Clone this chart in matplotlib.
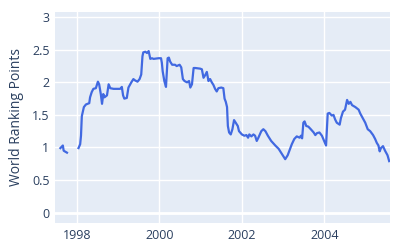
import matplotlib
matplotlib.use("Agg")
import matplotlib.pyplot as plt
import numpy as np

plt.rcParams['font.family'] = ['Open Sans', 'DejaVu Sans']

# decimal year, ranking points (gap between the two runs)
years_a = [1997.60, 1997.66, 1997.68, 1997.76]
points_a = [0.99, 1.03, 0.95, 0.92]

years_b = [1998.04, 1998.08, 1998.10, 1998.12, 1998.17, 1998.22, 1998.30, 1998.32,
           1998.36, 1998.40, 1998.46, 1998.51, 1998.54, 1998.58, 1998.61, 1998.64,
           1998.67, 1998.73, 1998.77, 1998.81, 1998.89, 1999.05, 1999.09, 1999.12,
           1999.15, 1999.21, 1999.25, 1999.32, 1999.37, 1999.41, 1999.47, 1999.52,
           1999.56, 1999.59, 1999.61, 1999.66, 1999.70, 1999.74, 1999.78, 1999.82,
           1999.86, 1999.98, 2000.04, 2000.06, 2000.08, 2000.12, 2000.16, 2000.20,
           2000.23, 2000.26, 2000.31, 2000.38, 2000.42, 2000.49, 2000.53, 2000.57,
           2000.61, 2000.67, 2000.72, 2000.75, 2000.79, 2000.83, 2000.87, 2000.99,
           2001.03, 2001.07, 2001.11, 2001.15, 2001.19, 2001.23, 2001.27, 2001.31,
           2001.35, 2001.39, 2001.43, 2001.50, 2001.55, 2001.58, 2001.61, 2001.64,
           2001.66, 2001.69, 2001.73, 2001.77, 2001.81, 2001.85, 2001.90, 2001.93,
           2002.00, 2002.06, 2002.11, 2002.15, 2002.18, 2002.23, 2002.28, 2002.32,
           2002.36, 2002.40, 2002.47, 2002.52, 2002.57, 2002.63, 2002.71, 2002.81,
           2002.89, 2002.97, 2003.05, 2003.11, 2003.17, 2003.21, 2003.27, 2003.33,
           2003.40, 2003.43, 2003.46, 2003.49, 2003.52, 2003.56, 2003.61, 2003.67,
           2003.74, 2003.78, 2003.82, 2003.88, 2003.94, 2004.00, 2004.04, 2004.08,
           2004.12, 2004.18, 2004.22, 2004.26, 2004.30, 2004.37, 2004.40, 2004.45,
           2004.50, 2004.55, 2004.59, 2004.63, 2004.67, 2004.75, 2004.83, 2004.87,
           2004.93, 2004.99, 2005.05, 2005.11, 2005.18, 2005.23, 2005.27, 2005.31,
           2005.34, 2005.37, 2005.42, 2005.47, 2005.53, 2005.57]
points_b = [0.99, 1.05, 1.18, 1.48, 1.62, 1.66, 1.68, 1.77,
            1.85, 1.90, 1.91, 2.01, 1.97, 1.82, 1.67, 1.82,
            1.77, 1.80, 1.97, 1.91, 1.90, 1.90, 1.93, 1.80,
            1.75, 1.76, 1.92, 2.00, 2.05, 2.03, 2.01, 2.05,
            2.12, 2.40, 2.46, 2.47, 2.45, 2.48, 2.36, 2.37,
            2.36, 2.37, 2.37, 2.30, 2.17, 2.02, 1.93, 2.37,
            2.38, 2.32, 2.27, 2.27, 2.25, 2.27, 2.23, 2.05,
            2.02, 2.00, 2.02, 1.92, 1.97, 2.22, 2.22, 2.21,
            2.20, 2.07, 2.11, 2.16, 2.02, 2.05, 2.00, 1.96,
            1.90, 1.86, 1.91, 1.92, 1.91, 1.75, 1.70, 1.62,
            1.33, 1.23, 1.20, 1.28, 1.42, 1.38, 1.33, 1.25,
            1.20, 1.18, 1.19, 1.15, 1.20, 1.17, 1.20, 1.18,
            1.10, 1.15, 1.25, 1.28, 1.25, 1.18, 1.10, 1.03,
            0.98, 0.90, 0.82, 0.88, 0.98, 1.05, 1.13, 1.17,
            1.15, 1.18, 1.14, 1.38, 1.40, 1.33, 1.32, 1.28,
            1.23, 1.19, 1.22, 1.23, 1.18, 1.09, 1.03, 1.52,
            1.53, 1.49, 1.50, 1.43, 1.38, 1.35, 1.45, 1.55,
            1.58, 1.73, 1.67, 1.70, 1.65, 1.62, 1.58, 1.52,
            1.45, 1.38, 1.28, 1.25, 1.19, 1.13, 1.07, 1.03,
            0.94, 0.99, 1.02, 0.95, 0.88, 0.79]

x_ticks = [1998, 2000, 2002, 2004]
y_ticks = [0, 0.5, 1, 1.5, 2, 2.5, 3]
y_tick_labels = ['0', '0.5', '1', '1.5', '2', '2.5', '3']

text_col = '#2a3f5f'
line_col = '#4169e1'

fig = plt.figure(figsize=(4, 2.5), dpi=100)
ax = fig.add_axes([0.1375, 0.108, 0.8375, 0.844])
ax.set_facecolor('#e5ecf6')

ax.plot(years_a, points_a, color=line_col, lw=1.6, zorder=3)
ax.plot(years_b, points_b, color=line_col, lw=1.6, zorder=3)

ax.set_xlim(1997.47, 2005.59)
ax.set_ylim(-0.16, 3.08)
ax.set_xticks(x_ticks)
ax.set_xticklabels([str(t) for t in x_ticks])
ax.set_yticks(y_ticks)
ax.set_yticklabels(y_tick_labels)
ax.grid(color='white', lw=1)
ax.axhline(0, color='white', lw=2, zorder=2)
ax.set_axisbelow(True)
for s in ax.spines.values():
    s.set_visible(False)
ax.tick_params(length=0, labelsize=9, labelcolor=text_col, pad=4)
ax.set_ylabel("World Ranking Points", fontsize=10, color=text_col, labelpad=6)

fig.savefig("out.png", dpi=100)
